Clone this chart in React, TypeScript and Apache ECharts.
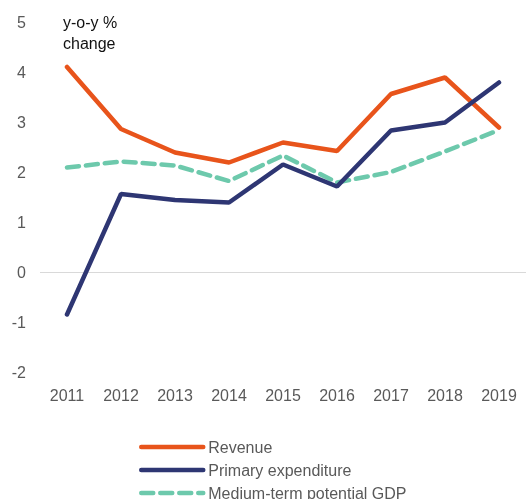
import React, { useEffect, useRef } from "react";
import * as echarts from "echarts";

const years = ["2011", "2012", "2013", "2014", "2015", "2016", "2017", "2018", "2019"];
const revenue = [4.1, 2.86, 2.39, 2.19, 2.59, 2.42, 3.56, 3.89, 2.89];
const primaryExpenditure = [-0.85, 1.56, 1.44, 1.39, 2.15, 1.71, 2.83, 2.99, 3.79];
const potentialGdp = [2.09, 2.21, 2.13, 1.82, 2.33, 1.79, 2.0, 2.41, 2.84];
const yTicks = { min: -2, max: 5, interval: 1 };

export default function App() {
  const ref = useRef<HTMLDivElement>(null);
  useEffect(() => {
    document.body.style.margin = "0";
    const chart = echarts.init(ref.current!, null, { renderer: "svg" });
    const font = "Liberation Sans, Arial, sans-serif";
    chart.setOption({
      animation: false,
      textStyle: { fontFamily: font },
      grid: { left: 40, right: -6, top: 22, bottom: 158 },
      xAxis: {
        type: "category",
        data: years,
        boundaryGap: true,
        axisLine: { show: false },
        axisTick: { show: false },
        axisLabel: { color: "#595959", fontSize: 16, margin: 15, fontFamily: font },
      },
      yAxis: {
        type: "value",
        min: yTicks.min,
        max: yTicks.max,
        interval: yTicks.interval,
        axisLine: { show: false },
        axisTick: { show: false },
        splitLine: { show: false },
        axisLabel: { color: "#595959", fontSize: 16, margin: 14, fontFamily: font },
      },
      legend: {
        orient: "vertical",
        left: 134,
        top: 434,
        itemWidth: 62,
        itemHeight: 14,
        itemGap: 7,
        itemStyle: { opacity: 0 },
        lineStyle: { width: 4.5, cap: "round" },
        textStyle: { color: "#595959", fontSize: 16, fontFamily: font },
        data: ["Revenue", "Primary expenditure", "Medium-term potential GDP"],
      },
      graphic: [
        {
          type: "text",
          left: 63,
          top: 12,
          style: {
            text: "y-o-y %\nchange",
            fontSize: 16,
            lineHeight: 21,
            fill: "#111",
            fontFamily: font,
          },
        },
      ],
      series: [
        {
          name: "Revenue",
          type: "line",
          data: revenue,
          symbol: "none",
          lineStyle: { color: "#E8541B", width: 4.5, cap: "round" },
          itemStyle: { color: "#E8541B" },
          z: 3,
          markLine: {
            silent: true,
            symbol: "none",
            label: { show: false },
            lineStyle: { color: "#d9d9d9", width: 1, type: "solid" },
            data: [{ yAxis: 0 }],
            z: 1,
          },
        },
        {
          name: "Primary expenditure",
          type: "line",
          data: primaryExpenditure,
          symbol: "none",
          lineStyle: { color: "#2E3673", width: 4.5, cap: "round" },
          itemStyle: { color: "#2E3673" },
          z: 4,
        },
        {
          name: "Medium-term potential GDP",
          type: "line",
          data: potentialGdp,
          symbol: "none",
          lineStyle: { color: "#6DC9AC", width: 4.5, type: [12, 7], cap: "round" },
          itemStyle: { color: "#6DC9AC" },
          z: 2,
        },
      ],
    });
    return () => chart.dispose();
  }, []);
  return (
    <div
      ref={ref}
      style={{ position: "fixed", left: 0, top: 0, width: 526, height: 530 }}
    />
  );
}
